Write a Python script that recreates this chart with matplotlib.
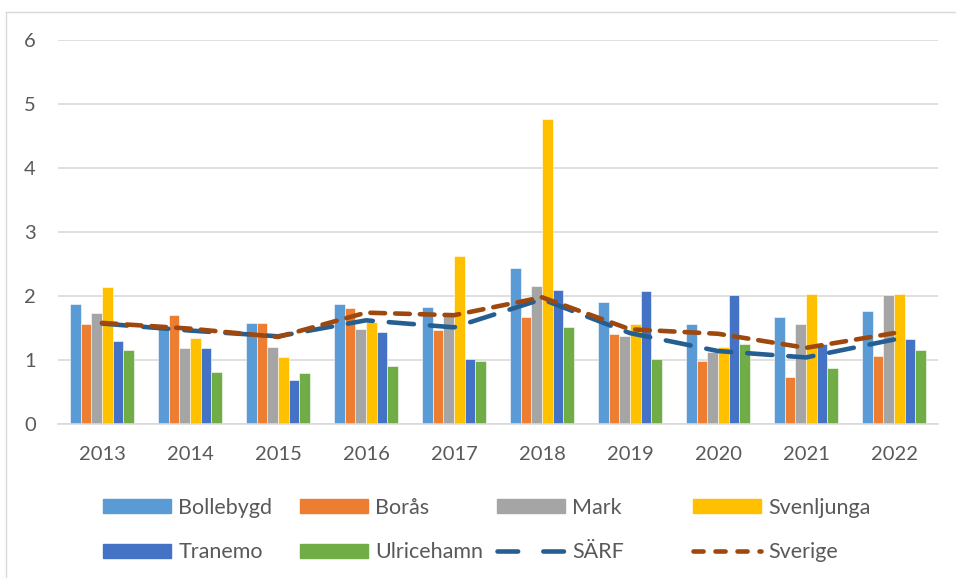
import matplotlib.pyplot as plt
from matplotlib.patches import Rectangle
from matplotlib.lines import Line2D
import numpy as np

# Data
years = ['2013', '2014', '2015', '2016', '2017', '2018', '2019', '2020', '2021', '2022']

bollebygd = [1.87, 1.49, 1.58, 1.87, 1.83, 2.44, 1.90, 1.57, 1.67, 1.76]
boras = [1.56, 1.71, 1.58, 1.82, 1.47, 1.67, 1.41, 0.98, 0.73, 1.06]
mark = [1.74, 1.18, 1.20, 1.48, 1.70, 2.16, 1.37, 1.12, 1.57, 2.01]
svenljunga = [2.14, 1.35, 1.04, 1.59, 2.63, 4.77, 1.57, 1.20, 2.03, 2.03]
tranemo = [1.29, 1.19, 0.69, 1.43, 1.01, 2.10, 2.08, 2.02, 1.25, 1.33]
ulricehamn = [1.16, 0.82, 0.80, 0.91, 0.98, 1.51, 1.01, 1.25, 0.88, 1.15]

sarf = [1.57, 1.46, 1.37, 1.62, 1.51, 1.95, 1.42, 1.14, 1.04, 1.32]
sverige = [1.58, 1.49, 1.36, 1.74, 1.70, 1.98, 1.48, 1.41, 1.19, 1.42]

bar_series = [('Bollebygd', bollebygd, '#5B9BD5'),
              ('Borås', boras, '#ED7D31'),
              ('Mark', mark, '#A5A5A5'),
              ('Svenljunga', svenljunga, '#FFC000'),
              ('Tranemo', tranemo, '#4472C4'),
              ('Ulricehamn', ulricehamn, '#70AD47')]

plt.rcParams['font.family'] = ['Lato', 'DejaVu Sans']
text_col = '#595959'

W, H = 956, 578
fig = plt.figure(figsize=(W / 100, H / 100), dpi=100)
ax = fig.add_axes([58 / W, 1 - 424 / H, 880 / W, 384 / H])

x = np.arange(len(years))
w = 0.121
handles = {}
for i, (name, vals, col) in enumerate(bar_series):
    ax.bar(x + (i - 2.5) * w, vals, w, color=col, edgecolor='white', linewidth=0.4, zorder=2)
    handles[name] = Rectangle((0, 0), 1, 1, color=col)

ax.plot(x, sarf, color='#255E91', linewidth=3.3, dashes=(5.5, 3.5),
        dash_capstyle='round', zorder=3)
ax.plot(x, sverige, color='#9E480E', linewidth=3.3, dashes=(3.2, 2.2),
        dash_capstyle='round', zorder=4)
handles['SÄRF'] = Line2D([], [], color='#255E91', linewidth=3.3, dashes=(4.5, 5.5),
                         dash_capstyle='round')
handles['Sverige'] = Line2D([], [], color='#9E480E', linewidth=3.3, dashes=(2.2, 2.6),
                            dash_capstyle='round')

ax.set_xlim(-0.5, len(years) - 0.5)
ax.set_ylim(0, 6)
ax.set_yticks(range(0, 7))
ax.set_xticks(x)
ax.set_xticklabels(years)
ax.grid(axis='y', color='#D9D9D9', linewidth=1.2, zorder=0)
ax.set_axisbelow(True)
for s in ['top', 'right', 'left']:
    ax.spines[s].set_visible(False)
ax.spines['bottom'].set_color('#D9D9D9')
ax.spines['bottom'].set_linewidth(1.2)
ax.tick_params(axis='both', length=0, labelsize=14.5, colors=text_col)
ax.tick_params(axis='y', pad=16)
ax.tick_params(axis='x', pad=16)

# Legend: four equal columns
columns = [['Bollebygd', 'Tranemo'], ['Borås', 'Ulricehamn'],
           ['Mark', 'SÄRF'], ['Svenljunga', 'Sverige']]
col_x = [103, 300, 497, 693]
for cx, names in zip(col_x, columns):
    fig.legend([handles[n] for n in names], names, loc='center left',
               bbox_to_anchor=(cx / W, 1 - 530 / H), frameon=False,
               fontsize=15.5, handlelength=3.15, handleheight=0.6,
               handletextpad=0.35, labelspacing=1.15, borderaxespad=0,
               borderpad=0, labelcolor=text_col)

# chart area border (left and top edges visible)
fig.add_artist(Line2D([6 / W, 6 / W], [0, 1 - 12 / H], transform=fig.transFigure,
                      color='#D9D9D9', linewidth=1))
fig.add_artist(Line2D([6 / W, 1], [1 - 12 / H, 1 - 12 / H], transform=fig.transFigure,
                      color='#D9D9D9', linewidth=1))

fig.savefig('out.png', dpi=100)
